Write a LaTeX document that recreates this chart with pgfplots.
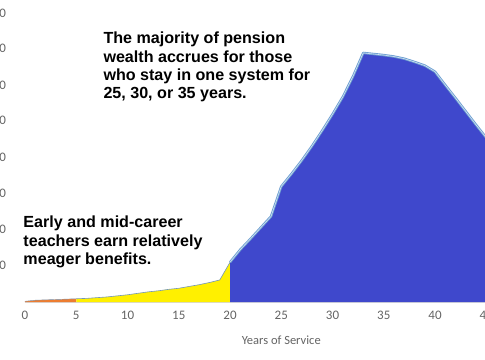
\documentclass[border=0pt]{standalone}
\usepackage{pgfplots}
\pgfplotsset{compat=1.18}
\usepackage{pgfplotstable}
\usepackage{fontspec}
\setmainfont{Carlito}
\newfontfamily\annfont{Liberation Sans}
\definecolor{oran}{RGB}{237,125,49}
\definecolor{yel}{RGB}{255,240,0}
\definecolor{blu}{RGB}{63,72,204}
\definecolor{lin}{RGB}{110,160,210}
\definecolor{tickc}{RGB}{100,100,100}

\pgfplotstableread{
x y
0 0.02
1 0.05
2 0.06
3 0.07
4 0.08
5 0.09
}\early
\pgfplotstableread{
x y
5 0.09
6 0.10
7 0.12
8 0.14
9 0.17
10 0.20
11 0.24
12 0.28
13 0.31
14 0.35
15 0.38
16 0.43
17 0.48
18 0.54
19 0.61
20 1.10
}\mid
\pgfplotstableread{
x y
20 1.10
21 1.45
22 1.75
23 2.06
24 2.37
25 3.20
26 3.55
27 3.92
28 4.32
29 4.75
30 5.20
31 5.68
32 6.25
33 6.90
34 6.87
35 6.84
36 6.80
37 6.74
38 6.65
39 6.55
40 6.38
41 6.01
42 5.65
43 5.28
44 4.91
45 4.55
46 4.20
}\late

\begin{document}
\begin{tikzpicture}
\begin{axis}[
  anchor=origin, at={(0,0)},
  x=10.25bp, y=36.1bp,
  xmin=0, xmax=50, ymin=0, ymax=8.5,
  axis lines*=left,
  y axis line style={draw=none},
  x axis line style={draw=black!15, line width=0.8bp},
  xtick={0,5,...,45},
  ytick={1,...,8},
  yticklabels={\$100,000,\$200,000,\$300,000,\$400,000,\$500,000,\$600,000,\$700,000,\$800,000},
  major tick style={draw=none},
  tick label style={font=\fontsize{13bp}{15bp}\selectfont, text=tickc},
  /pgf/number format/assume math mode=true,
  yticklabel style={xshift=-15.5bp},
  xticklabel style={yshift=-6bp},
  xlabel={Years of Service},
  every axis x label/.style={at={(axis cs:25,0)}, anchor=center, yshift=-38bp, font=\fontsize{12.5bp}{15bp}\selectfont, text=tickc},
]
\addplot[fill=oran, draw=none] table {\early} \closedcycle;
\addplot[fill=yel, draw=none] table {\mid} \closedcycle;
\addplot[fill=blu, draw=none] table {\late} \closedcycle;
\addplot[draw=lin!70!gray, line width=0.4bp] table {\early};
\addplot[draw=lin!70!gray, line width=0.6bp] table {\mid};
\addplot[draw=lin, line width=2.4bp, line join=round] table {\late};
\addplot[draw=white!70!lin, line width=0.6bp, line join=round] table {\late};
\end{axis}
\node[anchor=north west, inner sep=0, align=left, font=\annfont\bfseries\fontsize{16.1bp}{18.3bp}\selectfont] at (78.3bp,270bp)
 {The majority of pension\\wealth accrues for those\\who stay in one system for\\25, 30, or 35 years.};
\node[anchor=north west, inner sep=0, align=left, font=\annfont\bfseries\fontsize{16.1bp}{18.3bp}\selectfont] at (-1.7bp,86bp)
 {Early and mid-career\\teachers earn relatively\\meager benefits.};
\pgfresetboundingbox
\path[use as bounding box] (-25bp,-58bp) rectangle (460bp,302bp);
\end{tikzpicture}
\end{document}
